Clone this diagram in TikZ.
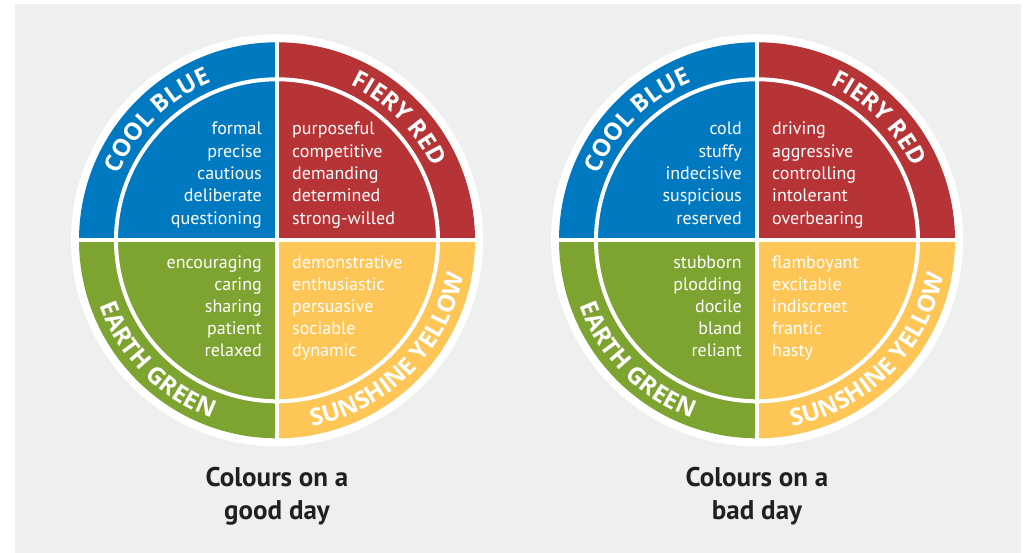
\documentclass[tikz,border=0pt]{standalone}
\usepackage{fontspec}
\setmainfont{PT Sans}
\newfontfamily\bandfam{Open Sans}
\usetikzlibrary{decorations.text}
\definecolor{cblue}{HTML}{0079C1}
\definecolor{cred}{HTML}{B63336}
\definecolor{cgreen}{HTML}{7DA430}
\definecolor{cyellow}{HTML}{FEC656}
\definecolor{bggrey}{HTML}{EEF0EF}
\definecolor{titlecol}{HTML}{231F20}
\newcommand\bandfont{\bandfam\bfseries\fontsize{24}{24}\selectfont}
\tikzset{
  word/.style={text=white, inner sep=0pt, font=\fontsize{18}{18}\selectfont},
  wl/.style={word, anchor=base east},
  wr/.style={word, anchor=base west},
  titletext/.style={text=titlecol, inner sep=0pt, anchor=base, font=\bfseries\fontsize{27}{27}\selectfont},
  ringline/.style={draw=white, line width=4pt},
  bandtext/.style={decorate, decoration={text along path, text align=center, text color=white, text={|\bandfont|#1}}},
}
\newcommand\wheelbase[1]{%
  \begin{scope}[shift={(#1,-240.3)}]
    \fill[white] (0,0) circle[radius=206];
    \fill[cblue] (0,0) -- (180:198) arc[start angle=180,end angle=90,radius=198] -- cycle;
    \fill[cred] (0,0) -- (90:198) arc[start angle=90,end angle=0,radius=198] -- cycle;
    \fill[cgreen] (0,0) -- (180:198) arc[start angle=180,end angle=270,radius=198] -- cycle;
    \fill[cyellow] (0,0) -- (270:198) arc[start angle=270,end angle=360,radius=198] -- cycle;
    \draw[ringline] (0,0) circle[radius=161];
    \draw[ringline] (-206,0) -- (206,0);
    \draw[ringline] (0,-206) -- (0,206);
    \path[bandtext={COOL BLUE}] (180:171.5) arc[start angle=180,end angle=90,radius=171.5];
    \path[bandtext={FIERY RED}] (90:171.5) arc[start angle=90,end angle=0,radius=171.5];
    \path[bandtext={EARTH GREEN}] (180:189.5) arc[start angle=180,end angle=270,radius=189.5];
    \path[bandtext={SUNSHINE YELLOW}] (270:189.5) arc[start angle=270,end angle=360,radius=189.5];
  \end{scope}}
\begin{document}
\begin{tikzpicture}[x=1pt,y=1pt]
\useasboundingbox (0,0) rectangle (1031,-553);
\fill[bggrey] (15,-4) rectangle (1021,-553);
\wheelbase{277}
\wheelbase{757}
% left wheel words
\node[wl] (a1) at (262,-135.0) {formal};
\node[wl] (a2) at (262,-157.3) {precise};
\node[wl] (a3) at (262,-179.6) {cautious};
\node[wl] (a4) at (262,-201.9) {deliberate};
\node[wl] (a5) at (262,-224.2) {questioning};
\node[wr] (b1) at (292,-135.0) {purposeful};
\node[wr] (b2) at (292,-157.3) {competitive};
\node[wr] (b3) at (292,-179.6) {demanding};
\node[wr] (b4) at (292,-201.9) {determined};
\node[wr] (b5) at (292,-224.2) {strong-willed};
\node[wl] (c1) at (262,-268.5) {encouraging};
\node[wl] (c2) at (262,-290.6) {caring};
\node[wl] (c3) at (262,-312.7) {sharing};
\node[wl] (c4) at (262,-334.8) {patient};
\node[wl] (c5) at (262,-356.9) {relaxed};
\node[wr] (d1) at (292,-268.5) {demonstrative};
\node[wr] (d2) at (292,-290.6) {enthusiastic};
\node[wr] (d3) at (292,-312.7) {persuasive};
\node[wr] (d4) at (292,-334.8) {sociable};
\node[wr] (d5) at (292,-356.9) {dynamic};
% right wheel words
\node[wl] (e1) at (742,-135.0) {cold};
\node[wl] (e2) at (742,-157.3) {stuffy};
\node[wl] (e3) at (742,-179.6) {indecisive};
\node[wl] (e4) at (742,-201.9) {suspicious};
\node[wl] (e5) at (742,-224.2) {reserved};
\node[wr] (f1) at (772,-135.0) {driving};
\node[wr] (f2) at (772,-157.3) {aggressive};
\node[wr] (f3) at (772,-179.6) {controlling};
\node[wr] (f4) at (772,-201.9) {intolerant};
\node[wr] (f5) at (772,-224.2) {overbearing};
\node[wl] (g1) at (742,-268.5) {stubborn};
\node[wl] (g2) at (742,-290.6) {plodding};
\node[wl] (g3) at (742,-312.7) {docile};
\node[wl] (g4) at (742,-334.8) {bland};
\node[wl] (g5) at (742,-356.9) {reliant};
\node[wr] (h1) at (772,-268.5) {flamboyant};
\node[wr] (h2) at (772,-290.6) {excitable};
\node[wr] (h3) at (772,-312.7) {indiscreet};
\node[wr] (h4) at (772,-334.8) {frantic};
\node[wr] (h5) at (772,-356.9) {hasty};
% titles
\node[titletext] (t1) at (277,-486.7) {Colours on a};
\node[titletext] (t2) at (277,-519.0) {good day};
\node[titletext] (t3) at (757,-486.7) {Colours on a};
\node[titletext] (t4) at (757,-519.0) {bad day};
\end{tikzpicture}
\end{document}
